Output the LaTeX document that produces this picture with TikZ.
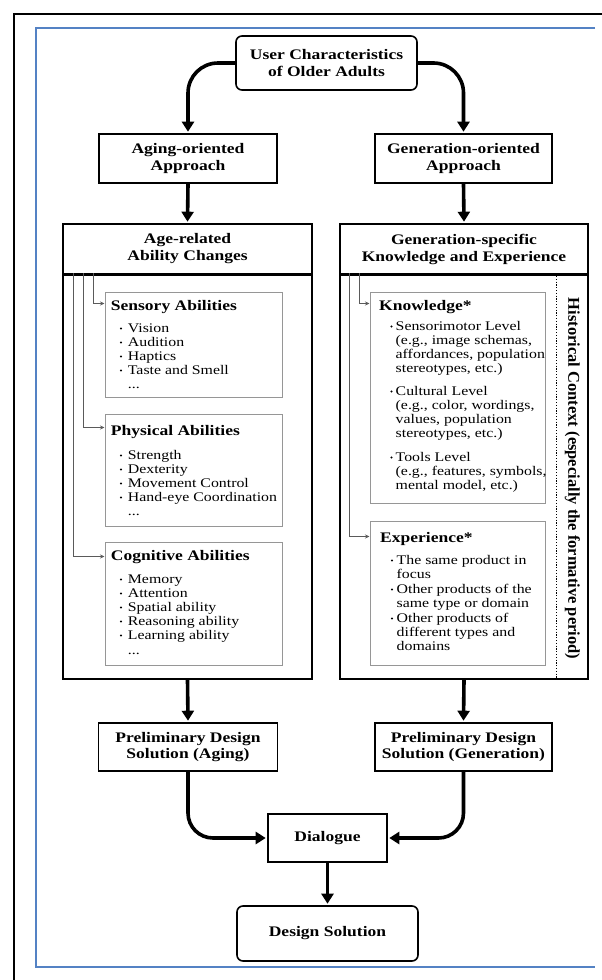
\documentclass[tikz,border=0pt]{standalone}
\usepackage{fontspec}
\setmainfont[FakeStretch=1.2]{Liberation Serif}
\newfontfamily\myrotfont{Liberation Serif}
\usetikzlibrary{arrows.meta}
\definecolor{frameblue}{RGB}{84,130,196}
\definecolor{boxgray}{RGB}{150,150,150}
\definecolor{lnkgray}{RGB}{90,90,90}
\newcommand\myhead{\fontsize{14.6}{16.5}\selectfont\bfseries}
\newcommand\myitem{\fontsize{13.2}{14}\selectfont}
\begin{document}
\begin{tikzpicture}[x=1pt,y=-1pt,
  mainbox/.style={draw, line width=1.6pt, align=center, font=\myhead, inner sep=0pt},
  headbox/.style={draw, line width=1.6pt, align=center, font=\fontsize{14.6}{17}\selectfont\bfseries, inner sep=0pt},
  bodybox/.style={draw, line width=1.6pt, inner sep=0pt},
  subbox/.style={draw=boxgray, line width=1pt, inner sep=0pt},
  arr/.style={line width=3.6pt, -{Triangle[width=12pt,length=10pt]}, shorten >=1.5pt},
  conn/.style={draw=lnkgray, line width=0.9pt, -{Stealth[length=4.5pt,width=4pt]}},
  hd/.style={anchor=base west, inner sep=0pt, font=\myhead},
  it/.style={anchor=base west, inner sep=0pt, font=\myitem},
  bul/.style={fill=black}
]
\useasboundingbox (0,0) rectangle (602,980);
\fill[white] (0,0) rectangle (602,980);
% frames
\draw[line width=1.6pt] (14,980) -- (14,14) -- (602,14);
\draw[frameblue, line width=2pt] (595,28) -- (36,28) -- (36,967) -- (595,967);

% main nodes
\node[mainbox, rounded corners=6pt, minimum width=181pt, minimum height=54pt] (user) at (326.5,63) {User Characteristics\\of Older Adults};
\node[mainbox, minimum width=178pt, minimum height=49pt] (aging) at (188,158.5) {Aging-oriented\\Approach};
\node[mainbox, minimum width=177pt, minimum height=49pt] (gen) at (463.5,158.5) {Generation-oriented\\Approach};

\node[headbox, minimum width=249pt, minimum height=50pt] (agehead) at (187.5,249) {Age-related\\Ability Changes};
\node[bodybox, minimum width=249pt, minimum height=405pt] (agebody) at (187.5,476.5) {};
\node[headbox, minimum width=248pt, minimum height=50pt] (genhead) at (464,249) {Generation-specific\\Knowledge and Experience};
\node[bodybox, minimum width=248pt, minimum height=405pt] (genbody) at (464,476.5) {};
\draw[line width=3pt] (agehead.south west) -- (agehead.south east);
\draw[line width=3pt] (genhead.south west) -- (genhead.south east);

\node[mainbox, minimum width=179pt, minimum height=48pt] (pa) at (188,747) {Preliminary Design\\Solution (Aging)};
\node[mainbox, minimum width=177pt, minimum height=48pt] (pg) at (463.5,747) {Preliminary Design\\Solution (Generation)};
\node[mainbox, minimum width=119pt, minimum height=48pt] (dial) at (327.5,838) {Dialogue};
\node[mainbox, rounded corners=6pt, minimum width=181pt, minimum height=55pt] (design) at (327.5,933.5) {Design Solution};

% thick arrows
\draw[arr, rounded corners=30pt] (user.west) -| (aging.north);
\draw[arr, rounded corners=30pt] (user.east) -| (gen.north);
\draw[arr] (aging.south) -- (agehead.north);
\draw[arr] (gen.south) -- (genhead.north);
\draw[arr] (agebody.south) -- (pa.north);
\draw[arr] (genbody.south) -- (pg.north);
\draw[arr, rounded corners=25pt] (pa.south) |- (dial.west);
\draw[arr, rounded corners=25pt] (pg.south) |- (dial.east);
\draw[arr] (dial.south) -- (design.north);

% left sub boxes
\node[subbox, minimum width=177pt, minimum height=105pt] (sens) at (193.5,344.5) {};
\node[subbox, minimum width=177pt, minimum height=112pt] (phys) at (193.5,470) {};
\node[subbox, minimum width=177pt, minimum height=123pt] (cogn) at (193.5,603.5) {};
\draw[conn] ([xshift=31pt]agebody.north west) |- ([yshift=-12pt]sens.north west);
\draw[conn] ([xshift=21pt]agebody.north west) |- ([yshift=-14pt]phys.north west);
\draw[conn] ([xshift=11pt]agebody.north west) |- ([yshift=-15pt]cogn.north west);

% right sub boxes
\node[subbox, minimum width=175pt, minimum height=211pt] (know) at (457.5,397.5) {};
\node[subbox, minimum width=175pt, minimum height=144pt] (expe) at (457.5,593) {};
\draw[conn] ([xshift=20pt]genbody.north west) |- ([yshift=-12pt]know.north west);
\draw[conn] ([xshift=10pt]genbody.north west) |- ([yshift=-16pt]expe.north west);
\draw[line width=1pt, dash pattern=on 1.2pt off 1.6pt] ([xshift=-32pt]genbody.north east) -- ([xshift=-32pt]genbody.south east);
\node[rotate=-90, inner sep=0pt, font=\myrotfont\fontsize{16.5}{18}\selectfont\bfseries] (hist) at (572.5,478.5) {Historical Context (especially the formative period)};

% sensory text
\node[hd] (sh) at (110.7,310) {Sensory Abilities};
\node[it] (s1) at (127.7,332) {Vision};
\node[it] (s2) at (127.7,346) {Audition};
\node[it] (s3) at (127.7,360) {Haptics};
\node[it] (s4) at (127.7,374) {Taste and Smell};
\node[it] (s5) at (127.7,388) {...};
\foreach \y in {332,346,360,374} \fill[bul] (121,\y-3.6) circle (1.1pt);

% physical text
\node[hd] (ph) at (110.7,435) {Physical Abilities};
\node[it] (p1) at (127.7,459) {Strength};
\node[it] (p2) at (127.7,473) {Dexterity};
\node[it] (p3) at (127.7,487) {Movement Control};
\node[it] (p4) at (127.7,501) {Hand-eye Coordination};
\node[it] (p5) at (127.7,515) {...};
\foreach \y in {459,473,487,501} \fill[bul] (121,\y-3.6) circle (1.1pt);

% cognitive text
\node[hd] (ch) at (110.7,560) {Cognitive Abilities};
\node[it] (c1) at (127.7,583) {Memory};
\node[it] (c2) at (127.7,597) {Attention};
\node[it] (c3) at (127.7,611) {Spatial ability};
\node[it] (c4) at (127.7,625) {Reasoning ability};
\node[it] (c5) at (127.7,639) {Learning ability};
\node[it] (c6) at (127.7,654) {...};
\foreach \y in {583,597,611,625,639} \fill[bul] (121,\y-3.6) circle (1.1pt);

% knowledge text
\node[hd] (kh) at (379,310) {Knowledge*};
\node[it] (k1) at (395.5,330) {Sensorimotor Level};
\node[it] (k2) at (395.5,344) {(e.g., image schemas,};
\node[it] (k3) at (395.5,358) {affordances, population};
\node[it] (k4) at (395.5,372) {stereotypes, etc.)};
\node[it] (k5) at (395.5,395) {Cultural Level};
\node[it] (k6) at (395.5,409) {(e.g., color, wordings,};
\node[it] (k7) at (395.5,423) {values, population};
\node[it] (k8) at (395.5,437) {stereotypes, etc.)};
\node[it] (k9) at (395.5,461) {Tools Level};
\node[it] (k10) at (395.5,475) {(e.g., features, symbols,};
\node[it] (k11) at (395.5,489) {mental model, etc.)};
\foreach \y in {330,395,461} \fill[bul] (391.5,\y-3.6) circle (1.1pt);

% experience text
\node[hd] (eh) at (380,542) {Experience*};
\node[it] (e1) at (396.5,564) {The same product in};
\node[it] (e2) at (396.5,578) {focus};
\node[it] (e3) at (396.5,593) {Other products of the};
\node[it] (e4) at (396.5,607) {same type or domain};
\node[it] (e5) at (396.5,622) {Other products of};
\node[it] (e6) at (396.5,636) {different types and};
\node[it] (e7) at (396.5,650) {domains};
\foreach \y in {564,593,622} \fill[bul] (392,\y-3.6) circle (1.1pt);
\end{tikzpicture}
\end{document}
